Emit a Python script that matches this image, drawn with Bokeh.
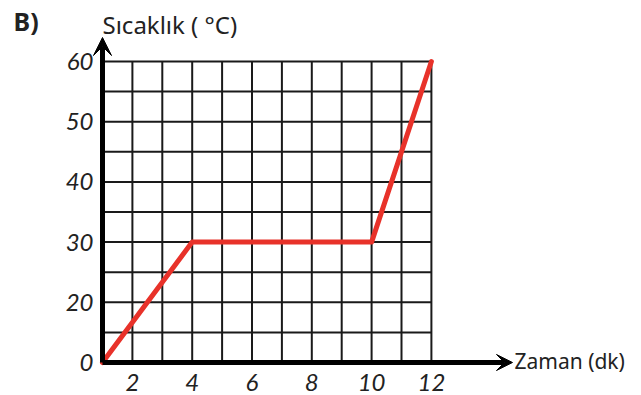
from bokeh.plotting import figure
from bokeh.models import Range1d, Arrow, VeeHead, Label, LabelSet, ColumnDataSource
from bokeh.core.properties import value
from bokeh.embed import file_html
from bokeh.resources import INLINE

# Grid columns / rows of the worksheet grid (axis origin is column 0, row 0)
n_cols = 11
n_rows = 10

# Tick labels placed on the grid lines
x_tick_pos = [1, 3, 5, 7, 9, 11]
x_tick_labels = ["2", "4", "6", "8", "10", "12"]
y_tick_pos = [0, 2, 4, 6, 8, 10]
y_tick_labels = ["0", "20", "30", "40", "50", "60"]

# Heating curve, in grid units (column, row)
curve_x = [0, 3, 9, 11]
curve_y = [0, 4, 4, 10]

# pixel geometry of one grid cell
cell_w = 29.9
cell_h = 30.1
ox, oy = 102, 362
W, H = 641, 395


def px_x(px):
    return (px - ox) / cell_w


def px_y(py):
    return (oy - py) / cell_h


p = figure(width=W, height=H,
           x_range=Range1d(px_x(0), px_x(W)),
           y_range=Range1d(px_y(H), px_y(0)),
           output_backend="svg", toolbar_location=None, min_border=0,
           x_axis_type=None, y_axis_type=None)
p.grid.visible = False
p.outline_line_color = None
p.background_fill_color = "white"
p.border_fill_color = "white"

# grid
cols = list(range(1, n_cols + 1))
rows = list(range(1, n_rows + 1))
p.segment(x0=cols, y0=[0] * len(cols), x1=cols, y1=[n_rows] * len(cols),
          line_width=2, line_color="#1a1a1a")
p.segment(x0=[0] * len(rows), y0=rows, x1=[n_cols] * len(rows), y1=rows,
          line_width=2, line_color="#1a1a1a")

# tick labels
tick_font = value("Lato")
x_ticks_src = ColumnDataSource(dict(x=x_tick_pos,
                                    y=[px_y(382)] * len(x_tick_pos),
                                    text=x_tick_labels))
y_ticks_src = ColumnDataSource(dict(x=[px_x(93)] * len(y_tick_pos),
                                    y=y_tick_pos, text=y_tick_labels))
p.add_layout(LabelSet(x="x", y="y", text="text", source=x_ticks_src,
                      text_font=tick_font, text_font_style="italic",
                      text_font_size="24px", text_color="#222222",
                      text_align="center", text_baseline="middle"))
p.add_layout(LabelSet(x="x", y="y", text="text", source=y_ticks_src,
                      text_font=tick_font, text_font_style="italic",
                      text_font_size="24px", text_color="#222222",
                      text_align="right", text_baseline="middle"))

# heating curve
p.line(curve_x, curve_y, line_width=5, line_color="#e8322a", line_cap="round",
       line_join="round")

# axis arrows
p.add_layout(Arrow(x_start=0, y_start=0, x_end=px_x(512), y_end=0,
                   line_width=5, line_color="black",
                   end=VeeHead(size=16, line_color="black", fill_color="black",
                               line_width=1)))
p.add_layout(Arrow(x_start=0, y_start=0, x_end=0, y_end=px_y(37),
                   line_width=5, line_color="black",
                   end=VeeHead(size=18, line_color="black", fill_color="black",
                               line_width=1)))

# titles
p.add_layout(Label(x=0, y=px_y(24), text="Sıcaklık ( °C)",
                   text_font="Noto Sans", text_font_size="24px",
                   text_color="#222222", text_baseline="middle"))
p.add_layout(Label(x=px_x(514), y=px_y(360), text="Zaman (dk)",
                   text_font="Noto Sans", text_font_size="21px",
                   text_color="#222222", text_baseline="middle"))
p.add_layout(Label(x=px_x(13), y=px_y(20), text="B)",
                   text_font="Noto Sans", text_font_style="bold",
                   text_font_size="25px", text_color="#222222",
                   text_baseline="middle"))

open("out.html", "w").write(file_html(p, INLINE))
